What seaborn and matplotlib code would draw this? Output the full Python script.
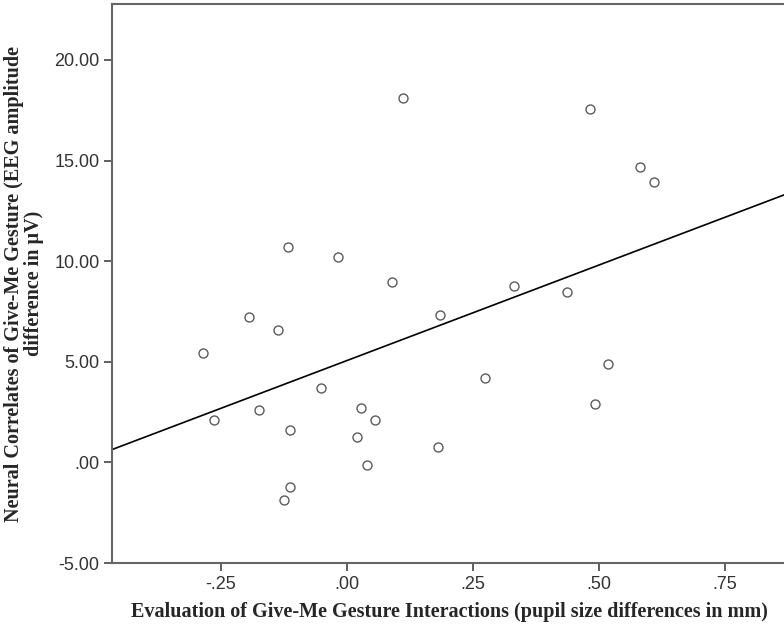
import numpy as np
import pandas as pd
import matplotlib
matplotlib.use("Agg")
import matplotlib.pyplot as plt
import seaborn as sns

# pupil size differences (mm)
pupil_diff = [0.111, 0.482, 0.581, 0.609, -0.117, -0.018, 0.089, 0.331, 0.436,
              -0.194, -0.137, -0.286, 0.185, 0.274, -0.052, -0.175, -0.264,
              -0.113, 0.028, 0.055, 0.020, 0.180, 0.040, -0.113, -0.125,
              0.518, 0.492]
# EEG amplitude differences (microvolts)
eeg_diff = [18.11, 17.56, 14.68, 13.94, 10.71, 10.21, 8.97, 8.77, 8.47,
            7.23, 6.58, 5.44, 7.33, 4.19, 3.70, 2.60, 2.11,
            1.61, 2.70, 2.11, 1.26, 0.77, -0.14, -1.22, -1.87,
            4.89, 2.90]

x_ticks = [-0.25, 0.0, 0.25, 0.50, 0.75]
x_tick_labels = ['-.25', '.00', '.25', '.50', '.75']
y_ticks = [-5, 0, 5, 10, 15, 20]
y_tick_labels = ['-5.00', '.00', '5.00', '10.00', '15.00', '20.00']

df = pd.DataFrame({'pupil': pupil_diff, 'eeg': eeg_diff})

sns.set_style('white')
plt.rcParams['font.family'] = ['Liberation Serif', 'DejaVu Serif']

fig = plt.figure(figsize=(7.84, 6.29), dpi=100)
ax = fig.add_axes([0.1429, 0.1049, 0.8571, 0.8887])
ax.set_xlim(-0.466, 0.867)
ax.set_ylim(-5, 22.78)

sns.regplot(x='pupil', y='eeg', data=df, ax=ax, ci=None, truncate=False,
            scatter_kws={'s': 42, 'facecolors': 'white', 'edgecolors': '#333333',
                         'linewidths': 1.0},
            line_kws={'color': 'black', 'linewidth': 1.2})

ax.set_xlim(-0.466, 0.867)
ax.set_ylim(-5, 22.78)

ax.set_xticks(x_ticks)
ax.set_xticklabels(x_tick_labels)
ax.set_yticks(y_ticks)
ax.set_yticklabels(y_tick_labels)
for lab in ax.get_xticklabels() + ax.get_yticklabels():
    lab.set_family(['Liberation Sans', 'DejaVu Sans'])
    lab.set_fontsize(13)
    lab.set_color('#333333')

ax.tick_params(axis='both', direction='out', length=6, width=1.2, color='#444444',
               bottom=True, left=True, pad=3)
for side in ['left', 'bottom', 'top']:
    ax.spines[side].set_color('#666666')
    ax.spines[side].set_linewidth(1.5)
ax.spines['right'].set_visible(False)

ax.set_xlabel('Evaluation of Give-Me Gesture Interactions (pupil size differences in mm)',
              fontsize=14.5, fontweight='bold')
ax.set_ylabel('Neural Correlates of Give-Me Gesture (EEG amplitude\ndifference in \u00b5V)',
              fontsize=14.5, fontweight='bold', linespacing=1.0)
ax.xaxis.label.set_va('center')
ax.yaxis.label.set_va('center')
ax.xaxis.set_label_coords(0.5015, -0.0877)
ax.yaxis.set_label_coords(-0.1317, 0.5)

fig.savefig('out.png', dpi=100)
